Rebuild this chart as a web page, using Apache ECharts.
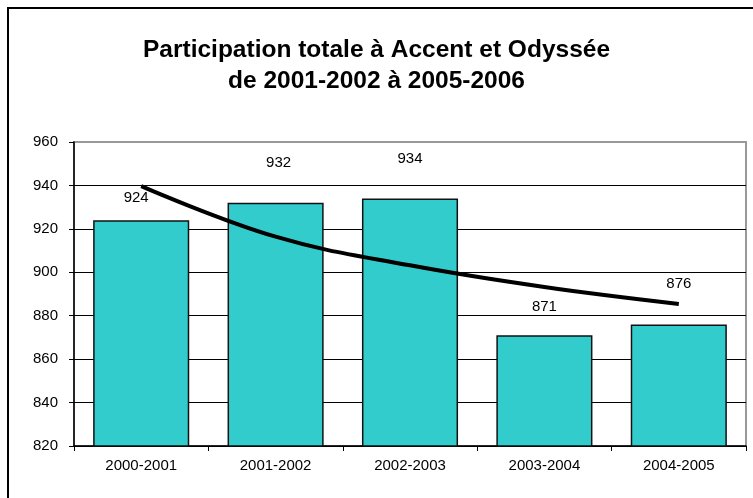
<!DOCTYPE html>
<html>
<head>
<meta charset="utf-8">
<script src="https://cdn.jsdelivr.net/npm/echarts@6/dist/echarts.min.js"></script>
<style>
  html, body { margin: 0; padding: 0; background: #fff; }
  #chart { width: 753px; height: 498px; }
</style>
</head>
<body>
<div id="chart"></div>
<script>
// données
const categories = ['2000-2001', '2001-2002', '2002-2003', '2003-2004', '2004-2005'];
const participation = [924, 932, 934, 871, 876];
// courbe de tendance
const trend = [939.7, 916.4, 903.2, 893.2, 885.4];
const yTicks = [820, 840, 860, 880, 900, 920, 940, 960];

// décalage des étiquettes au-dessus des barres (style)
const labelLift = [15, 32, 32, 21, 33];
const labelShift = [-5, 3, 0, 0, 0];

const font = "'Liberation Sans', Arial, sans-serif";
const chart = echarts.init(document.getElementById('chart'));

const option = {
  animation: false,
  backgroundColor: '#fff',
  title: {
    text: 'Participation totale à Accent et Odyssée\nde 2001-2002 à 2005-2006',
    left: 'center',
    top: 30,
    textStyle: {
      fontFamily: font,
      fontSize: 24.5,
      fontWeight: 'bold',
      color: '#000',
      lineHeight: 31,
    },
  },
  graphic: [
    {
      type: 'rect',
      shape: { x: 8, y: 8, width: 800, height: 600 },
      style: { fill: 'none', stroke: '#000', lineWidth: 2 },
      silent: true,
      z: 100,
    },
  ],
  grid: {
    left: 74,
    right: 7,
    top: 142,
    bottom: 52,
    show: true,
    borderColor: '#999',
    borderWidth: 2,
  },
  xAxis: {
    type: 'category',
    data: categories,
    axisLine: { lineStyle: { color: '#000', width: 1.5 } },
    axisTick: { show: true, length: 5, lineStyle: { color: '#000' } },
    axisLabel: { color: '#000', fontFamily: font, fontSize: 15, margin: 12 },
  },
  yAxis: {
    type: 'value',
    min: yTicks[0],
    max: yTicks[yTicks.length - 1],
    interval: 20,
    axisLine: { show: true, lineStyle: { color: '#000', width: 1.5 } },
    axisTick: { show: true, length: 5, lineStyle: { color: '#000' } },
    axisLabel: { color: '#000', fontFamily: font, fontSize: 15, margin: 16 },
    splitLine: {
      show: true,
      lineStyle: {
        color: yTicks.map((t, i) => (i === yTicks.length - 1 ? '#999' : '#000')),
        width: 1,
      },
    },
  },
  series: [
    {
      name: 'Participation',
      type: 'bar',
      barWidth: '71.5%',
      data: participation.map((v, i) => ({
        value: v,
        label: { distance: labelLift[i], offset: [labelShift[i], 0] },
      })),
      itemStyle: { color: '#33CCCC', borderColor: '#111', borderWidth: 1.5 },
      label: {
        show: true,
        position: 'top',
        color: '#000',
        fontFamily: font,
        fontSize: 15,
      },
      z: 2,
    },
    {
      name: 'Tendance',
      type: 'line',
      data: trend,
      smooth: 0.4,
      showSymbol: false,
      lineStyle: { color: '#000', width: 4 },
      z: 5,
    },
  ],
};

chart.setOption(option);
window.addEventListener('resize', () => chart.resize());
</script>
</body>
</html>
